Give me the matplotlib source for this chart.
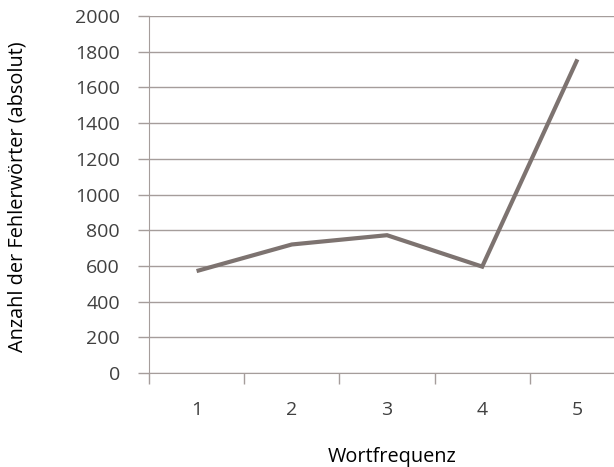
import matplotlib
matplotlib.use("Agg")
import matplotlib.pyplot as plt
import numpy as np

# data
categories = ["1", "2", "3", "4", "5"]
fehler = [571, 720, 772, 596, 1757]
y_ticks = [0, 200, 400, 600, 800, 1000, 1200, 1400, 1600, 1800, 2000]

line_color = "#7d7370"
grid_color = "#a59d9b"
text_color = "#404040"

plt.rcParams["font.family"] = ["Open Sans", "DejaVu Sans"]

fig = plt.figure(figsize=(6.14, 4.67), dpi=100)
ax = fig.add_axes([149 / 614, 94 / 467, 476 / 614, 357 / 467])

x = np.arange(1, len(categories) + 1)
ax.plot(x, fehler, color=line_color, lw=3, solid_capstyle="butt", solid_joinstyle="miter", zorder=3)

ax.set_xlim(0.5, len(categories) + 0.5)
ax.set_ylim(0, 2000)
ax.set_yticks(y_ticks)
ax.set_yticklabels([str(v) for v in y_ticks], fontsize=14, color=text_color)
ax.set_xticks(x)
ax.set_xticklabels(categories, fontsize=14, color=text_color)
ax.set_xticks(np.arange(0.5, len(categories) + 1), minor=True)

ax.tick_params(axis="x", which="major", length=0, pad=20)
ax.tick_params(axis="x", which="minor", length=8, width=1, color=grid_color, direction="out")
ax.tick_params(axis="y", length=8, width=1, color=grid_color, pad=13)

ax.grid(axis="y", color=grid_color, lw=1)
ax.set_axisbelow(True)
for side in ["top", "right"]:
    ax.spines[side].set_visible(False)
ax.spines["left"].set_color(grid_color)
ax.spines["bottom"].set_color(grid_color)

ax.set_xlabel("Wortfrequenz", fontsize=14.3, color="#000000", labelpad=20)
fig.text(18 / 614, 1 - 197 / 467, "Anzahl der Fehlerwörter (absolut)", rotation=90,
         fontsize=14.3, color="#000000", ha="center", va="center")
ax.xaxis.label.set_x((392 - 149) / 476)

fig.savefig("out.png", dpi=100)
